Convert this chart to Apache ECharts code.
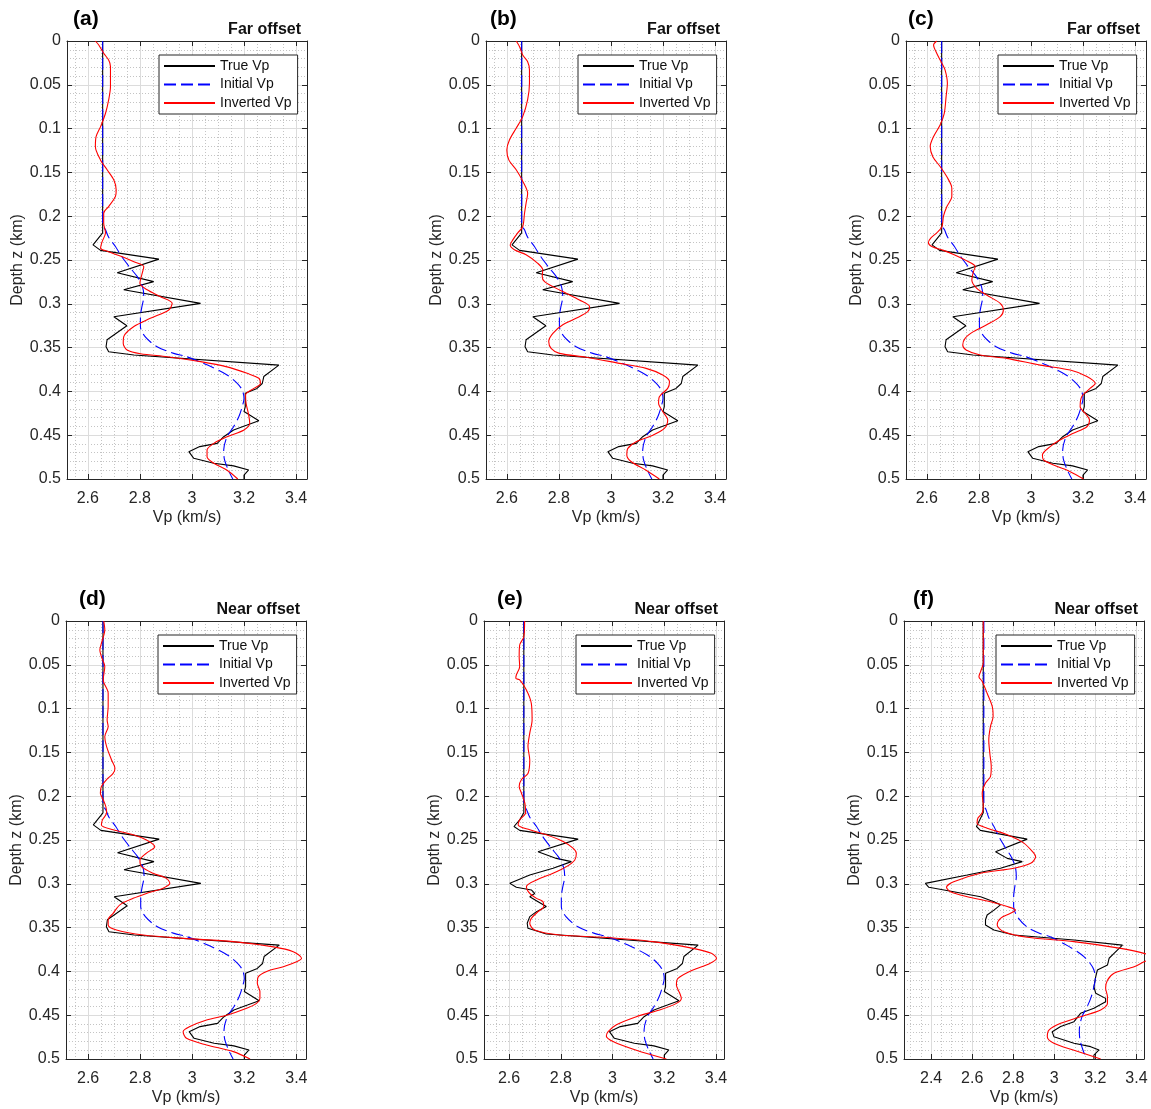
<!DOCTYPE html>
<html>
<head>
<meta charset="utf-8">
<script src="https://cdn.jsdelivr.net/npm/echarts@6/dist/echarts.min.js"></script>
<style>
  html, body { margin: 0; background: #fff; }
  #chart { width: 1151px; height: 1109px; }
</style>
</head>
<body>
<div id="chart"></div>
<script>
// each point is [depth (km), Vp (km/s)]
const trueVp = [
  [0, 2.657], [0.219, 2.657], [0.2327, 2.62], [0.239, 2.649], [0.249, 2.873], [0.2645, 2.713],
  [0.2747, 2.853], [0.284, 2.738], [0.2995, 3.033], [0.3147, 2.70], [0.325, 2.75], [0.341, 2.674],
  [0.349, 2.67], [0.3547, 2.68], [0.3585, 2.777], [0.37, 3.334], [0.383, 3.276], [0.391, 3.27],
  [0.3966, 3.25], [0.402, 3.205], [0.4175, 3.205], [0.423, 3.20], [0.4334, 3.257], [0.4384, 3.212],
  [0.444, 3.16], [0.4517, 3.122], [0.4593, 3.097], [0.463, 3.03], [0.4688, 2.988], [0.4764, 3.007],
  [0.482, 3.084], [0.485, 3.16], [0.4897, 3.218], [0.4955, 3.20], [0.5, 3.20]
]
const trueVpE = [
  [0, 2.657], [0.219, 2.657], [0.227, 2.641], [0.2346, 2.619], [0.239, 2.641], [0.249, 2.867],
  [0.2633, 2.712], [0.271, 2.783], [0.2747, 2.841], [0.2823, 2.77], [0.29, 2.68], [0.2995, 2.603],
  [0.304, 2.628], [0.307, 2.686], [0.311, 2.699], [0.3147, 2.68], [0.3204, 2.712], [0.326, 2.744],
  [0.3318, 2.706], [0.3375, 2.68], [0.345, 2.67], [0.3508, 2.673], [0.3573, 2.744], [0.37, 3.331],
  [0.383, 3.276], [0.391, 3.27], [0.3966, 3.25], [0.402, 3.205], [0.4175, 3.205], [0.423, 3.20],
  [0.4334, 3.257], [0.4384, 3.212], [0.444, 3.16], [0.4517, 3.122], [0.4593, 3.097], [0.463, 3.03],
  [0.4688, 2.988], [0.4764, 3.007], [0.482, 3.084], [0.485, 3.16], [0.4897, 3.218], [0.4955, 3.20], [0.5, 3.20]
]
const trueVpF = [
  [0, 2.654], [0.219, 2.654], [0.2346, 2.621], [0.239, 2.64], [0.249, 2.868], [0.2633, 2.714],
  [0.271, 2.771], [0.2747, 2.844], [0.2823, 2.738], [0.29, 2.576], [0.2995, 2.372], [0.304, 2.389],
  [0.309, 2.51], [0.3147, 2.641], [0.3204, 2.706], [0.324, 2.738], [0.33, 2.706], [0.3356, 2.673],
  [0.341, 2.665], [0.347, 2.665], [0.3527, 2.706], [0.3585, 2.803], [0.3642, 3.096], [0.37, 3.332],
  [0.3794, 3.291], [0.385, 3.267], [0.3927, 3.259], [0.3984, 3.21], [0.406, 3.202], [0.4175, 3.193],
  [0.425, 3.202], [0.4308, 3.25], [0.4346, 3.25], [0.442, 3.193], [0.4479, 3.128], [0.4574, 3.096],
  [0.463, 3.031], [0.4688, 2.99], [0.4745, 2.998], [0.482, 3.096], [0.4859, 3.177], [0.4897, 3.218],
  [0.4955, 3.193], [0.5, 3.193]
]
const initialVp = [
  [0, 2.657], [0.21, 2.657], [0.2156, 2.668], [0.224, 2.68], [0.2346, 2.706], [0.246, 2.73],
  [0.2595, 2.764], [0.269, 2.79], [0.2804, 2.81], [0.292, 2.815], [0.303, 2.808], [0.3147, 2.802],
  [0.326, 2.802], [0.3375, 2.82], [0.349, 2.866], [0.3566, 2.93], [0.3604, 2.98], [0.37, 3.06],
  [0.3813, 3.135], [0.391, 3.175], [0.3984, 3.193], [0.408, 3.2], [0.4175, 3.193], [0.429, 3.18],
  [0.4403, 3.16], [0.4517, 3.135], [0.467, 3.122], [0.478, 3.125], [0.49, 3.14], [0.5, 3.157]
]
const invA = [
  [0, 2.629], [0.0046, 2.642], [0.014, 2.661], [0.0217, 2.68], [0.029, 2.687], [0.052, 2.687],
  [0.0673, 2.68], [0.0825, 2.668], [0.0977, 2.649], [0.109, 2.632], [0.1205, 2.629], [0.136, 2.649],
  [0.147, 2.674], [0.1586, 2.70], [0.17, 2.709], [0.1776, 2.706], [0.189, 2.68], [0.1966, 2.661],
  [0.208, 2.661], [0.219, 2.668], [0.229, 2.655], [0.2365, 2.649], [0.24, 2.674], [0.246, 2.73],
  [0.252, 2.777], [0.2576, 2.815], [0.265, 2.809], [0.2766, 2.80], [0.284, 2.828], [0.2919, 2.879],
  [0.2995, 2.924], [0.307, 2.911], [0.3166, 2.84], [0.326, 2.777], [0.3375, 2.738], [0.345, 2.736],
  [0.3527, 2.751], [0.357, 2.802], [0.3604, 2.905], [0.366, 3.033], [0.372, 3.135], [0.3794, 3.212],
  [0.385, 3.257], [0.391, 3.263], [0.3966, 3.238], [0.404, 3.206], [0.4136, 3.208], [0.427, 3.218],
  [0.4365, 3.222], [0.444, 3.20], [0.4517, 3.135], [0.4593, 3.084], [0.467, 3.058], [0.4745, 3.058],
  [0.482, 3.084], [0.49, 3.135], [0.5, 3.176]
]
const invB = [
  [0, 2.636], [0.0065, 2.649], [0.016, 2.661], [0.0236, 2.68], [0.033, 2.687], [0.048, 2.687],
  [0.067, 2.68], [0.0863, 2.661], [0.0996, 2.636], [0.113, 2.61], [0.1243, 2.60], [0.136, 2.608],
  [0.147, 2.636], [0.16, 2.661], [0.174, 2.68], [0.185, 2.674], [0.1966, 2.668], [0.212, 2.661],
  [0.219, 2.642], [0.227, 2.623], [0.233, 2.613], [0.2384, 2.629], [0.244, 2.674], [0.2538, 2.719],
  [0.2614, 2.738], [0.269, 2.736], [0.2747, 2.745], [0.2804, 2.777], [0.288, 2.828], [0.2957, 2.879],
  [0.3033, 2.918], [0.309, 2.911], [0.3166, 2.866], [0.324, 2.815], [0.3337, 2.777], [0.343, 2.761],
  [0.3508, 2.77], [0.3566, 2.802], [0.361, 2.905], [0.368, 3.033], [0.3737, 3.135], [0.3813, 3.199],
  [0.389, 3.225], [0.3966, 3.218], [0.406, 3.186], [0.4136, 3.183], [0.423, 3.199], [0.4327, 3.218],
  [0.442, 3.206], [0.45, 3.161], [0.4574, 3.097], [0.465, 3.065], [0.4726, 3.061], [0.48, 3.077],
  [0.49, 3.135], [0.5, 3.186]
]
const invC = [
  [0, 2.638], [0.0046, 2.626], [0.014, 2.638], [0.0255, 2.658], [0.033, 2.67], [0.048, 2.679],
  [0.0635, 2.674], [0.0825, 2.667], [0.0958, 2.651], [0.109, 2.626], [0.1205, 2.613], [0.132, 2.623],
  [0.1433, 2.651], [0.155, 2.677], [0.168, 2.696], [0.1776, 2.696], [0.189, 2.677], [0.2, 2.664],
  [0.212, 2.658], [0.219, 2.638], [0.225, 2.615], [0.23, 2.606], [0.2346, 2.619], [0.239, 2.664],
  [0.244, 2.705], [0.252, 2.76], [0.2576, 2.786], [0.2633, 2.779], [0.273, 2.773], [0.2823, 2.792],
  [0.29, 2.83], [0.2995, 2.882], [0.307, 2.894], [0.3147, 2.882], [0.324, 2.83], [0.3318, 2.779],
  [0.3394, 2.747], [0.347, 2.738], [0.3527, 2.751], [0.3585, 2.805], [0.3623, 2.907], [0.37, 3.035],
  [0.3756, 3.151], [0.383, 3.215], [0.391, 3.247], [0.3966, 3.227], [0.406, 3.195], [0.4175, 3.189],
  [0.425, 3.208], [0.4327, 3.225], [0.4403, 3.215], [0.4478, 3.163], [0.4555, 3.112], [0.463, 3.074],
  [0.4726, 3.044], [0.478, 3.048], [0.484, 3.087], [0.4916, 3.151], [0.5, 3.202]
]
const invD = [
  [0, 2.66], [0.01, 2.664], [0.0255, 2.651], [0.033, 2.645], [0.0407, 2.651], [0.052, 2.664],
  [0.0673, 2.658], [0.0825, 2.677], [0.0977, 2.677], [0.113, 2.673], [0.1205, 2.677], [0.132, 2.664],
  [0.1433, 2.671], [0.1586, 2.69], [0.168, 2.703], [0.174, 2.696], [0.181, 2.671], [0.189, 2.651],
  [0.1966, 2.647], [0.204, 2.658], [0.212, 2.668], [0.219, 2.671], [0.227, 2.655], [0.233, 2.651],
  [0.2384, 2.696], [0.244, 2.773], [0.25, 2.824], [0.2576, 2.856], [0.265, 2.824], [0.273, 2.799],
  [0.2804, 2.805], [0.288, 2.85], [0.2938, 2.901], [0.2995, 2.914], [0.305, 2.888], [0.311, 2.824],
  [0.3166, 2.773], [0.324, 2.722], [0.3337, 2.696], [0.341, 2.677], [0.347, 2.677], [0.3527, 2.709],
  [0.3585, 2.812], [0.3623, 2.965], [0.366, 3.158], [0.372, 3.312], [0.3775, 3.388], [0.385, 3.42],
  [0.389, 3.401], [0.3946, 3.35], [0.4, 3.286], [0.406, 3.254], [0.4136, 3.25], [0.423, 3.26],
  [0.4308, 3.26], [0.4365, 3.247], [0.442, 3.209], [0.45, 3.132], [0.4555, 3.055], [0.463, 2.991],
  [0.4688, 2.965], [0.4764, 2.978], [0.484, 3.055], [0.4916, 3.158], [0.5, 3.222]
]
const invE = [
  [0, 2.66], [0.018, 2.657], [0.0274, 2.641], [0.0407, 2.639], [0.052, 2.641], [0.0616, 2.628],
  [0.0654, 2.626], [0.0673, 2.641], [0.0787, 2.667], [0.094, 2.686], [0.113, 2.689], [0.128, 2.68],
  [0.1433, 2.673], [0.1586, 2.68], [0.174, 2.673], [0.181, 2.648], [0.189, 2.639], [0.1966, 2.648],
  [0.208, 2.661], [0.219, 2.664], [0.227, 2.641], [0.233, 2.635], [0.2384, 2.68], [0.244, 2.744],
  [0.2517, 2.809], [0.2593, 2.847], [0.265, 2.86], [0.2728, 2.854], [0.2804, 2.822], [0.288, 2.77],
  [0.2957, 2.706], [0.3033, 2.667], [0.311, 2.68], [0.3166, 2.706], [0.3204, 2.731], [0.326, 2.734],
  [0.3318, 2.712], [0.3394, 2.686], [0.345, 2.68], [0.3527, 2.699], [0.3585, 2.796], [0.361, 2.963],
  [0.366, 3.157], [0.3737, 3.311], [0.3794, 3.382], [0.385, 3.402], [0.391, 3.376], [0.3984, 3.311],
  [0.408, 3.253], [0.4155, 3.247], [0.425, 3.26], [0.4308, 3.266], [0.4365, 3.247], [0.444, 3.182],
  [0.4517, 3.092], [0.461, 3.015], [0.4688, 2.983], [0.4737, 2.976], [0.48, 3.002], [0.49, 3.092],
  [0.5, 3.208]
]
const invF = [
  [0, 2.654], [0.048, 2.654], [0.0578, 2.641], [0.0635, 2.633], [0.069, 2.649], [0.0825, 2.673],
  [0.0977, 2.698], [0.109, 2.702], [0.1205, 2.689], [0.136, 2.681], [0.151, 2.686], [0.1663, 2.693],
  [0.1776, 2.689], [0.185, 2.665], [0.1966, 2.649], [0.211, 2.654], [0.219, 2.649], [0.225, 2.628],
  [0.231, 2.624], [0.2365, 2.673], [0.244, 2.771], [0.2536, 2.852], [0.265, 2.90], [0.269, 2.909],
  [0.2766, 2.885], [0.2823, 2.803], [0.288, 2.641], [0.2976, 2.51], [0.304, 2.475], [0.309, 2.494],
  [0.3147, 2.576], [0.3204, 2.689], [0.326, 2.771], [0.33, 2.811], [0.3337, 2.787], [0.3394, 2.738],
  [0.347, 2.722], [0.3547, 2.754], [0.361, 2.868], [0.366, 3.096], [0.3737, 3.324], [0.3794, 3.437],
  [0.3845, 3.48], [0.389, 3.437], [0.3946, 3.389], [0.402, 3.291], [0.41, 3.259], [0.419, 3.25],
  [0.429, 3.259], [0.4365, 3.259], [0.444, 3.226], [0.4517, 3.128], [0.4593, 3.031], [0.467, 2.974],
  [0.4745, 2.966], [0.482, 2.998], [0.49, 3.096], [0.5, 3.226]
]

const panelLetters = ['(a)', '(b)', '(c)', '(d)', '(e)', '(f)']
const panelTitles = ['Far offset', 'Far offset', 'Far offset', 'Near offset', 'Near offset', 'Near offset']
const trueByPanel = [trueVp, trueVp, trueVp, trueVp, trueVpE, trueVpF]
const invByPanel = [invA, invB, invC, invD, invE, invF]
const xMin = [2.52, 2.52, 2.52, 2.515, 2.503, 2.268]
const xMax = [3.442, 3.442, 3.442, 3.437, 3.431, 3.437]

// layout of the 2x3 axes, in px
const gridLeft = [67, 486, 906, 66, 484, 904]
const gridTop = [41, 41, 41, 621, 621, 621]
const gridW = 240
const gridH = 438
const letterLeft = [68, 485, 903, 74, 492, 908]

const axisColor = '#262626'
const font = 'Arial, "Liberation Sans", Helvetica, sans-serif'
const toPts = arr => arr.map(p => [p[1], p[0]])

const grid = [], xAxis = [], yAxis = [], series = [], title = [], legend = []

for (let i = 0; i < 6; i++) {
  grid.push({ left: gridLeft[i], top: gridTop[i], width: gridW, height: gridH, containLabel: false })

  const common = {
    gridIndex: i, type: 'value',
    axisLine: { show: true, onZero: false, lineStyle: { color: axisColor, width: 1 } },
    axisTick: { show: true, inside: true, length: 5, lineStyle: { color: axisColor } }
  }
  xAxis.push(Object.assign({}, common, {
    position: 'bottom', min: xMin[i], max: xMax[i],
    name: 'Vp (km/s)', nameLocation: 'middle', nameGap: 31,
    nameTextStyle: { fontSize: 16, color: axisColor, fontFamily: font },
    axisLabel: {
      fontSize: 16, color: axisColor, margin: 12, fontFamily: font,
      formatter: v => {
        const k = v / 0.2
        return Math.abs(k - Math.round(k)) < 1e-6 ? String(+v.toFixed(1)) : ''
      }
    },
    splitLine: { show: true, lineStyle: { color: '#dcdcdc', width: 1 } },
    minorTick: { show: false, splitNumber: 4 },
    minorSplitLine: { show: true, lineStyle: { color: '#c4c4c4', width: 1, type: [1, 2] } }
  }))
  xAxis.push(Object.assign({}, common, {
    position: 'top', min: xMin[i], max: xMax[i],
    axisLabel: { show: false }, splitLine: { show: false }
  }))
  yAxis.push(Object.assign({}, common, {
    position: 'left', min: 0, max: 0.5, interval: 0.05, inverse: true,
    name: 'Depth z (km)', nameLocation: 'middle', nameGap: 36,
    nameTextStyle: { fontSize: 16, color: axisColor, fontFamily: font },
    axisLabel: { fontSize: 16, color: axisColor, margin: 6, fontFamily: font },
    splitLine: { show: true, lineStyle: { color: '#dcdcdc', width: 1 } },
    minorTick: { show: false, splitNumber: 5 },
    minorSplitLine: { show: true, lineStyle: { color: '#c4c4c4', width: 1, type: [1, 2] } }
  }))
  yAxis.push(Object.assign({}, common, {
    position: 'right', min: 0, max: 0.5, interval: 0.05, inverse: true,
    axisLabel: { show: false }, splitLine: { show: false }
  }))

  series.push({
    type: 'line', name: 'True Vp', xAxisIndex: 2 * i, yAxisIndex: 2 * i,
    data: toPts(trueByPanel[i]), symbol: 'none', z: 3,
    lineStyle: { color: '#000000', width: 1.1 }, itemStyle: { color: '#000000' }
  })
  series.push({
    type: 'line', name: 'Initial Vp', xAxisIndex: 2 * i, yAxisIndex: 2 * i,
    data: toPts(initialVp), symbol: 'none', smooth: 0.3, z: 4,
    lineStyle: { color: '#0000ff', width: 1.1, type: [12, 5] }, itemStyle: { color: '#0000ff' }
  })
  series.push({
    type: 'line', name: 'Inverted Vp', xAxisIndex: 2 * i, yAxisIndex: 2 * i,
    data: toPts(invByPanel[i]), symbol: 'none', smooth: 0.3, z: 5,
    lineStyle: { color: '#ff0000', width: 1.1 }, itemStyle: { color: '#ff0000' }
  })

  title.push({
    text: panelLetters[i], left: letterLeft[i], top: gridTop[i] - 37,
    textStyle: { fontSize: 21, fontWeight: 'bold', color: '#000', fontFamily: font }
  })
  title.push({
    text: panelTitles[i], right: 1151 - (gridLeft[i] + gridW) + 1, top: gridTop[i] - 24,
    textStyle: { fontSize: 16, fontWeight: 'bold', color: '#111', fontFamily: font }
  })

  legend.push({
    data: ['True Vp', 'Initial Vp', 'Inverted Vp'],
    orient: 'vertical', left: gridLeft[i] + 92, top: gridTop[i] + 14,
    itemWidth: 51, itemHeight: 14, itemGap: 4.5,
    padding: [4, 6, 4, 4],
    itemStyle: { opacity: 0, color: 'transparent', borderWidth: 0 },
    backgroundColor: '#ffffff', borderColor: axisColor, borderWidth: 1, borderRadius: 0,
    textStyle: { fontSize: 14, color: '#111', fontFamily: font },
    selectedMode: false
  })
}

const option = {
  animation: false,
  backgroundColor: '#ffffff',
  textStyle: { fontFamily: font },
  title, legend, grid, xAxis, yAxis, series
}

const chart = echarts.init(document.getElementById('chart'))
chart.setOption(option)
</script>
</body>
</html>
